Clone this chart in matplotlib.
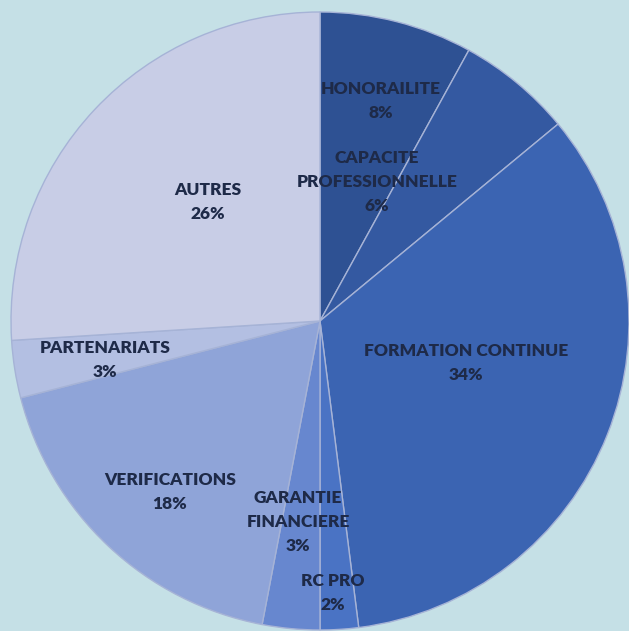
import matplotlib
matplotlib.use("Agg")
import matplotlib.pyplot as plt

categories = ["HONORAILITE", "CAPACITE\nPROFESSIONNELLE", "FORMATION CONTINUE", "RC PRO",
              "GARANTIE\nFINANCIERE", "VERIFICATIONS", "PARTENARIATS", "AUTRES"]
values = [8, 6, 34, 2, 3, 18, 3, 26]
colors = ["#2e5193", "#3459a1", "#3b64b2", "#4a73c4", "#6787cf", "#8fa4d8", "#b3bfe2", "#c8cde6"]

# label centres in pixels (layout only)
label_px = [(381, 101), (377, 182), (466, 363), (333, 593), (298, 522), (170, 492), (105, 360), (208, 202)]

W, H = 629, 631
cx, cy, R = 320, 321, 309

fig = plt.figure(figsize=(W / 100, H / 100), dpi=100)
fig.patch.set_facecolor("#c5e0e6")
ax = fig.add_axes([0, 0, 1, 1])
ax.set_facecolor("#c5e0e6")

wedges, _ = ax.pie(values, colors=colors, startangle=90, counterclock=False, radius=1.0,
                   wedgeprops=dict(edgecolor="#a6b3d6", linewidth=1.0))

ax.set_aspect("auto")
ax.set_xlim(-cx / R, (W - cx) / R)
ax.set_ylim(-(H - cy) / R, cy / R)
ax.axis("off")

for cat, v, (px, py) in zip(categories, values, label_px):
    x = (px - cx) / R
    y = (cy - py) / R
    ax.text(x, y, f"{cat}\n{v}%", ha="center", va="center", fontsize=12.5,
            fontweight="heavy", family=["Lato", "DejaVu Sans"], color="#1e2a48",
            linespacing=1.65)

fig.savefig("out.png", dpi=100, facecolor=fig.get_facecolor())
